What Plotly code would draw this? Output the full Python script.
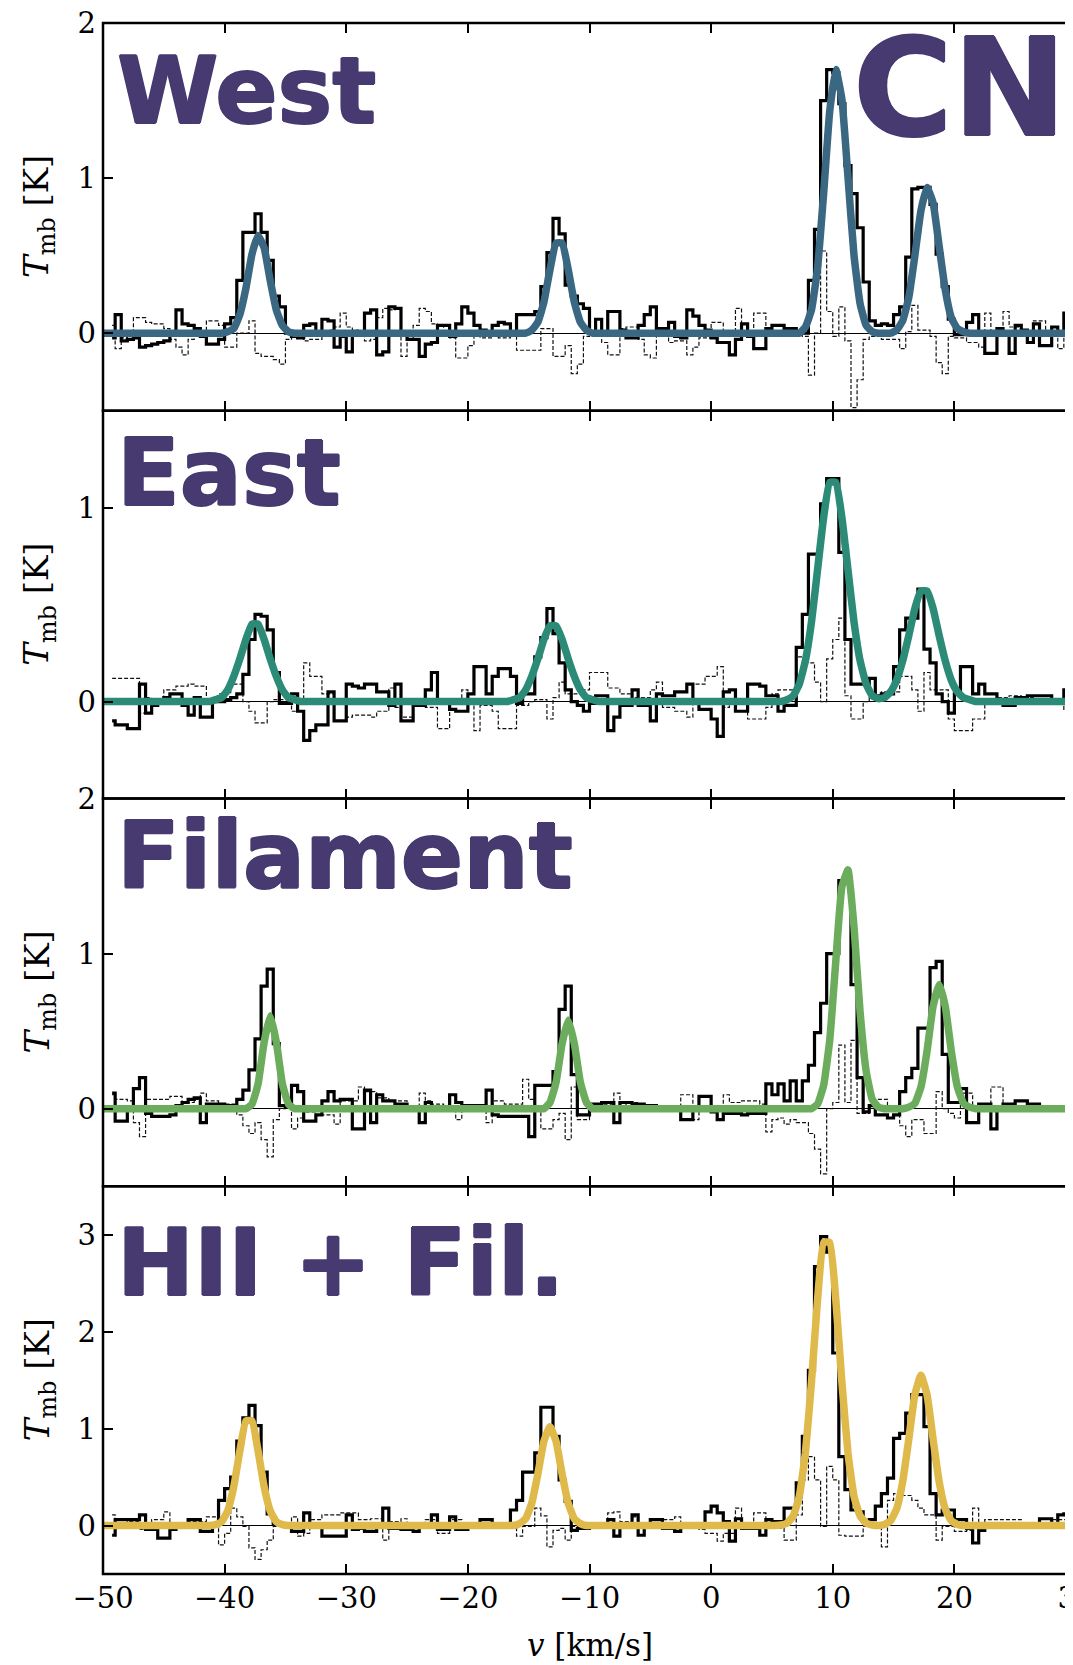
import plotly.graph_objects as go
from plotly.subplots import make_subplots

# Velocity channels: 0.5 km/s wide, centres from -49.25 km/s
v_first = -49.25
v_step = 0.5
n_chan = 159

# ---- West ----
west_spec = [
    -0.03, 0.12, -0.05, -0.04, -0.03, -0.09, -0.08, -0.07, -0.06, -0.05,
    -0.01, 0.15, 0.06, 0.05, 0.03, -0.02, -0.07, -0.07, -0.04, 0.06,
    0.10, 0.34, 0.65, 0.65, 0.77, 0.65, 0.47, 0.24, 0.17, 0.00,
    -0.02, -0.03, 0.05, 0.06, 0.01, 0.09, 0.08, -0.09, -0.02, -0.12,
    0.00, -0.01, 0.13, 0.15, -0.14, -0.12, 0.17, 0.16, -0.01, -0.04,
    -0.04, -0.15, -0.07, -0.06, 0.05, 0.05, -0.02, 0.06, 0.17, 0.13,
    0.05, 0.02, -0.01, 0.05, 0.07, 0.06, 0.00, 0.12, 0.12, 0.12,
    0.14, 0.30, 0.52, 0.74, 0.64, 0.31, 0.24, 0.19, 0.16, 0.00,
    0.09, 0.00, 0.14, 0.14, 0.02, -0.03, -0.03, 0.05, 0.12, 0.17,
    0.03, 0.03, 0.07, -0.02, -0.03, 0.15, 0.11, 0.05, 0.02, -0.03,
    -0.06, -0.06, -0.14, -0.04, 0.06, -0.02, -0.10, -0.10, 0.03, 0.05,
    0.05, 0.03, 0.03, 0.00, 0.00, 0.34, 0.67, 1.50, 1.70, 1.68,
    1.48, 1.08, 0.90, 0.68, 0.33, 0.08, 0.05, 0.06, 0.05, 0.12,
    0.17, 0.49, 0.93, 0.94, 0.94, 0.83, 0.51, 0.30, 0.09, -0.01,
    -0.01, 0.07, 0.12, -0.01, -0.13, -0.13, 0.03, 0.00, -0.13, 0.05,
    0.02, -0.06, 0.06, -0.08, -0.08, 0.04, 0.00, 0.13, 0.13,
]
west_resid = [
    0.05, -0.10, -0.03, 0.00, 0.10, 0.10, 0.07, 0.06, 0.06, 0.03,
    -0.04, -0.09, -0.14, -0.04, -0.02, -0.02, 0.08, 0.08, 0.05, -0.09,
    -0.09, 0.00, 0.00, 0.08, -0.13, -0.15, -0.15, -0.17, -0.20, -0.04,
    -0.01, -0.03, -0.05, -0.04, -0.04, -0.02, 0.02, 0.04, 0.13, 0.04,
    0.02, 0.00, -0.05, -0.04, 0.10, 0.16, 0.15, 0.16, -0.15, -0.04,
    0.05, 0.16, 0.14, 0.06, 0.05, -0.02, -0.03, -0.16, -0.16, -0.08,
    -0.02, -0.03, -0.03, 0.00, -0.03, -0.03, -0.01, -0.11, -0.11, -0.11,
    -0.11, 0.03, 0.03, -0.15, -0.15, -0.08, -0.26, -0.20, -0.02, 0.00,
    0.00, -0.06, -0.14, -0.14, 0.03, 0.04, 0.04, -0.04, -0.14, -0.16,
    0.01, 0.01, -0.06, -0.05, -0.05, -0.14, -0.09, -0.03, -0.03, 0.07,
    0.07, 0.00, 0.00, 0.16, 0.00, 0.00, 0.13, 0.13, -0.02, -0.02,
    0.01, -0.01, 0.02, 0.01, -0.02, -0.27, 0.00, 0.53, 0.14, -0.02,
    0.17, -0.05, -0.48, -0.30, -0.04, -0.02, -0.02, -0.04, -0.04, -0.04,
    -0.10, 0.01, 0.18, 0.02, 0.02, -0.02, -0.19, -0.26, -0.02, -0.03,
    -0.03, -0.06, -0.06, -0.09, 0.13, -0.02, -0.02, 0.14, 0.04, 0.04,
    0.00, 0.00, 0.08, 0.08, 0.00, 0.00, -0.10, 0.02, 0.02,
]
west_fit = (
    [0.0] * 19
    + [0.01, 0.03, 0.12, 0.29, 0.51, 0.63, 0.55, 0.34, 0.15, 0.05, 0.01]
    + [0.0] * 38
    + [0.00, 0.02, 0.07, 0.20, 0.41, 0.58, 0.58, 0.41, 0.20, 0.07, 0.02]
    + [0.0] * 35
    + [0.04, 0.15, 0.42, 0.90, 1.43, 1.70, 1.51, 1.01, 0.50, 0.19, 0.05, 0.01]
    + [0.0] * 3
    + [0.02, 0.08, 0.23, 0.50, 0.79, 0.94, 0.84, 0.56, 0.28, 0.10, 0.03, 0.01]
    + [0.0] * 18
)

# ---- East ----
east_spec = [
    -0.10, -0.12, -0.12, -0.14, -0.14, 0.09, -0.06, -0.02, 0.00, 0.02,
    0.04, 0.04, -0.02, -0.07, 0.02, -0.08, -0.08, 0.00, 0.00, 0.01,
    0.02, 0.04, 0.14, 0.32, 0.45, 0.44, 0.37, 0.15, -0.01, -0.01,
    0.04, -0.05, -0.20, -0.15, -0.12, -0.12, 0.05, -0.10, -0.10, 0.09,
    0.08, 0.07, 0.09, 0.09, 0.05, 0.05, -0.02, 0.09, -0.10, -0.10,
    -0.02, -0.02, 0.06, 0.15, 0.00, 0.00, -0.04, -0.05, -0.05, 0.04,
    0.18, 0.18, 0.04, 0.13, 0.17, 0.17, 0.13, -0.01, 0.04, 0.04,
    0.23, 0.33, 0.48, 0.35, 0.20, 0.06, 0.00, -0.02, -0.05, -0.01,
    0.03, 0.03, -0.15, -0.08, -0.02, -0.02, 0.06, -0.02, -0.02, -0.10,
    0.04, 0.03, 0.03, 0.05, 0.05, 0.09, 0.01, -0.04, -0.04, -0.09,
    -0.18, 0.05, 0.06, -0.05, -0.05, 0.09, 0.09, 0.08, 0.03, 0.03,
    -0.05, -0.02, -0.02, 0.28, 0.45, 0.76, 0.76, 1.02, 1.15, 1.15,
    0.77, 0.32, 0.09, 0.09, 0.09, 0.12, 0.03, 0.04, 0.04, 0.18,
    0.37, 0.43, 0.43, 0.58, 0.27, 0.20, 0.04, 0.00, -0.06, 0.04,
    0.18, 0.18, 0.04, 0.09, 0.04, 0.04, -0.01, -0.02, -0.02, 0.02,
    0.02, 0.03, 0.03, 0.03, 0.03, 0.00, 0.00, 0.06, 0.06,
]
east_resid = [
    0.12, 0.12, 0.12, 0.12, 0.12, -0.06, 0.02, 0.00, 0.00, 0.06,
    0.06, 0.08, 0.08, 0.09, 0.08, 0.08, 0.00, 0.00, 0.04, 0.04,
    0.09, 0.09, 0.00, -0.05, -0.11, -0.11, 0.00, 0.01, 0.01, 0.01,
    -0.05, 0.00, 0.20, 0.13, 0.13, 0.04, 0.04, 0.00, 0.00, -0.08,
    -0.07, -0.07, -0.07, -0.08, -0.05, -0.05, 0.07, -0.03, -0.08, -0.08,
    0.00, 0.00, -0.03, -0.03, -0.14, -0.14, 0.00, 0.00, 0.06, 0.00,
    -0.15, -0.02, -0.02, -0.05, -0.14, -0.14, -0.14, -0.02, -0.02, 0.00,
    0.01, 0.01, -0.09, 0.02, 0.10, 0.04, 0.04, 0.04, 0.06, 0.15,
    0.15, 0.15, 0.07, 0.07, 0.04, 0.04, 0.02, 0.02, 0.02, 0.06,
    0.10, -0.03, -0.03, -0.05, -0.05, -0.08, 0.09, 0.09, 0.13, 0.13,
    0.18, -0.03, 0.00, -0.05, -0.05, -0.09, -0.09, -0.09, -0.03, 0.04,
    0.06, 0.06, 0.06, 0.23, 0.23, 0.20, 0.10, 0.00, 0.22, 0.32,
    0.43, 0.03, -0.09, -0.09, 0.00, 0.02, 0.02, 0.05, 0.05, 0.05,
    0.13, 0.13, 0.06, -0.05, 0.15, 0.06, 0.06, 0.06, -0.09, -0.15,
    -0.15, -0.15, -0.09, -0.09, 0.00, 0.00, 0.02, 0.02, 0.03, 0.03,
    0.02, 0.02, 0.01, 0.00, 0.00, 0.00, 0.00, -0.04, -0.04,
]
east_fit = (
    [0.0] * 16
    + [0.00, 0.01, 0.02, 0.06, 0.13, 0.22, 0.32, 0.40, 0.40, 0.32, 0.22, 0.13, 0.06, 0.02, 0.01]
    + [0.0] * 34
    + [0.00, 0.01, 0.02, 0.06, 0.13, 0.22, 0.32, 0.39, 0.39, 0.32, 0.22, 0.13, 0.06, 0.02, 0.01]
    + [0.0] * 31
    + [0.01, 0.03, 0.09, 0.21, 0.41, 0.68, 0.95, 1.13, 1.13, 0.95, 0.68, 0.41, 0.21, 0.09, 0.03, 0.015]
    + [0.02, 0.05, 0.11, 0.21, 0.34, 0.48, 0.57, 0.57, 0.48, 0.34, 0.21, 0.11, 0.05, 0.02, 0.01]
    + [0.0] * 17
)

# ---- Filament ----
fil_spec = [
    0.10, -0.08, -0.08, 0.00, 0.13, 0.20, -0.03, -0.05, -0.05, -0.05,
    -0.04, 0.02, 0.04, 0.06, 0.07, -0.09, 0.03, 0.03, 0.03, 0.02,
    0.02, 0.06, 0.12, 0.25, 0.45, 0.79, 0.90, 0.42, 0.02, 0.01,
    0.15, 0.11, -0.08, -0.08, -0.04, 0.05, 0.11, 0.05, 0.06, 0.06,
    -0.13, -0.13, 0.12, -0.09, 0.09, 0.05, 0.05, 0.03, 0.03, 0.00,
    0.00, -0.09, 0.04, 0.01, 0.01, 0.01, 0.09, 0.04, 0.02, 0.02,
    0.02, 0.02, 0.12, -0.04, -0.05, -0.05, -0.05, -0.05, -0.05, -0.18,
    0.15, 0.15, 0.15, 0.24, 0.64, 0.79, 0.22, -0.04, -0.04, 0.03,
    0.03, 0.04, 0.04, -0.09, 0.04, 0.04, 0.03, 0.03, 0.02, 0.02,
    0.00, 0.00, 0.00, 0.00, -0.07, -0.07, -0.01, 0.08, 0.08, -0.02,
    -0.07, -0.03, -0.03, -0.03, -0.04, -0.03, -0.03, -0.03, 0.16, 0.09,
    0.16, 0.05, 0.18, 0.05, 0.18, 0.28, 0.49, 0.68, 1.00, 1.00,
    1.47, 1.49, 0.80, 0.20, -0.02, 0.02, -0.04, -0.04, -0.06, -0.04,
    0.11, 0.20, 0.26, 0.52, 0.52, 0.91, 0.95, 0.35, 0.04, 0.04,
    0.13, -0.09, -0.09, 0.03, 0.03, -0.13, 0.00, 0.03, 0.03, 0.05,
    0.05, 0.03, 0.03, 0.00, 0.00, 0.01, 0.01, 0.00, 0.00,
]
fil_resid = [
    0.09, 0.06, 0.06, 0.05, -0.09, -0.18, 0.06, 0.06, 0.06, 0.06,
    0.08, 0.08, 0.04, 0.04, 0.06, 0.10, 0.05, 0.05, 0.03, 0.03,
    0.03, -0.04, -0.11, -0.16, -0.09, -0.20, -0.31, -0.07, 0.00, 0.02,
    -0.13, -0.06, -0.02, -0.02, -0.04, -0.04, -0.04, -0.10, 0.05, 0.05,
    0.05, 0.14, 0.11, 0.11, 0.07, 0.07, 0.05, 0.05, 0.05, 0.02,
    0.02, 0.10, 0.05, 0.03, 0.03, 0.00, 0.00, -0.07, 0.02, 0.00,
    0.00, 0.00, -0.09, 0.05, 0.05, 0.03, 0.03, 0.03, 0.19, 0.06,
    0.00, -0.13, -0.13, -0.07, -0.03, -0.20, 0.14, -0.07, -0.07, 0.01,
    0.03, 0.03, 0.03, 0.10, 0.01, 0.04, 0.04, 0.00, 0.00, 0.02,
    0.02, 0.02, 0.02, 0.02, 0.09, 0.09, -0.07, 0.01, 0.01, 0.02,
    0.02, 0.09, 0.04, 0.04, 0.05, 0.05, 0.05, 0.03, -0.15, -0.07,
    -0.06, -0.10, -0.07, -0.09, -0.09, -0.16, -0.26, -0.42, 0.00, 0.04,
    0.41, 0.04, 0.44, -0.03, -0.03, 0.02, 0.06, 0.06, 0.02, 0.02,
    -0.11, -0.18, -0.07, -0.07, -0.16, -0.16, 0.11, 0.00, -0.03, -0.06,
    0.10, 0.10, 0.00, 0.03, 0.03, 0.14, 0.14, 0.03, 0.03, 0.00,
    0.00, 0.01, 0.01, 0.02, 0.02, 0.02, 0.02, 0.02, 0.02,
]
fil_fit = (
    [0.0] * 23
    + [0.03, 0.16, 0.43, 0.60, 0.43, 0.16, 0.03]
    + [0.0] * 42
    + [0.04, 0.17, 0.42, 0.57, 0.42, 0.17, 0.04]
    + [0.0] * 37
    + [0.03, 0.15, 0.44, 0.95, 1.43, 1.54, 1.17, 0.62, 0.24, 0.06, 0.01]
    + [0.0] * 4
    + [0.01, 0.035, 0.14, 0.37, 0.66, 0.80, 0.66, 0.37, 0.14, 0.035, 0.01]
    + [0.0] * 17
)

# ---- HII + Filament ----
hii_spec = [
    -0.10, 0.06, 0.06, 0.06, 0.06, 0.11, -0.04, -0.04, -0.13, -0.13,
    -0.04, 0.01, 0.01, 0.06, 0.06, -0.06, -0.06, 0.00, 0.26, 0.38,
    0.50, 0.87, 1.11, 1.24, 1.03, 0.55, 0.12, 0.02, 0.02, 0.02,
    -0.06, -0.06, 0.13, 0.02, 0.02, -0.11, -0.11, -0.11, -0.11, 0.11,
    -0.04, -0.03, -0.06, -0.06, 0.02, 0.18, -0.03, -0.03, -0.04, -0.04,
    -0.06, -0.01, -0.01, 0.11, -0.04, -0.04, 0.09, -0.04, -0.04, -0.01,
    -0.01, 0.06, 0.06, -0.01, -0.01, -0.01, 0.16, 0.26, 0.55, 0.55,
    0.75, 1.22, 1.22, 0.92, 0.47, 0.25, -0.05, -0.03, -0.03, 0.01,
    0.01, 0.01, 0.06, -0.11, 0.02, 0.02, 0.11, -0.10, -0.01, 0.06,
    0.06, -0.03, -0.03, -0.06, 0.02, 0.02, 0.02, 0.02, 0.14, 0.20,
    0.13, 0.04, -0.16, 0.07, -0.03, -0.03, -0.03, -0.10, 0.06, 0.04,
    0.04, 0.18, 0.18, 0.44, 0.92, 1.60, 2.67, 2.98, 2.82, 1.78,
    0.71, 0.37, 0.16, 0.14, 0.04, 0.06, 0.20, 0.33, 0.49, 0.90,
    0.95, 1.16, 1.35, 1.35, 1.02, 0.33, 0.11, 0.16, 0.16, 0.06,
    0.06, -0.03, -0.18, -0.05, 0.02, 0.02, -0.01, -0.01, -0.01, 0.02,
    0.02, 0.02, 0.02, 0.07, 0.07, 0.02, 0.11, 0.12, 0.12,
]
hii_resid = [
    0.11, 0.06, 0.06, 0.04, 0.04, -0.04, -0.01, 0.06, 0.06, 0.14,
    -0.01, -0.01, -0.01, 0.04, 0.04, 0.04, 0.09, 0.09, -0.20, -0.08,
    0.18, 0.09, -0.01, -0.23, -0.35, -0.25, -0.15, -0.01, -0.01, -0.01,
    0.09, -0.11, -0.08, 0.06, 0.06, 0.11, 0.11, 0.11, 0.13, 0.13,
    0.13, 0.06, 0.06, 0.07, 0.07, -0.15, 0.04, 0.04, 0.07, 0.02,
    0.02, 0.02, 0.06, 0.06, -0.08, -0.08, 0.06, 0.06, -0.01, -0.01,
    -0.01, -0.03, -0.03, -0.03, -0.03, -0.03, -0.03, -0.11, -0.01, -0.01,
    0.18, 0.10, -0.22, -0.05, -0.03, -0.15, -0.01, -0.01, -0.01, 0.02,
    0.02, 0.02, 0.13, 0.14, 0.04, 0.04, 0.09, 0.02, 0.02, 0.02,
    0.02, 0.06, 0.06, 0.09, -0.01, -0.01, -0.01, -0.04, -0.08, -0.08,
    -0.16, -0.08, -0.08, 0.18, 0.02, 0.02, 0.13, 0.13, 0.01, 0.01,
    -0.03, -0.15, -0.15, 0.11, 0.47, 0.71, 0.47, -0.01, 0.61, 0.47,
    -0.10, -0.11, -0.11, -0.11, -0.01, -0.01, -0.03, -0.22, 0.26, 0.33,
    0.31, 0.31, 0.26, 0.18, 0.11, 0.11, -0.15, -0.01, -0.01, -0.06,
    -0.06, -0.05, 0.18, 0.02, 0.06, 0.06, 0.06, 0.06, 0.06, 0.06,
    0.02, 0.02, 0.02, 0.02, 0.02, 0.06, 0.06, 0.06, 0.06,
]
hii_fit = (
    [0.0] * 17
    + [0.01, 0.04, 0.15, 0.40, 0.77, 1.08, 1.08, 0.77, 0.40, 0.15, 0.04, 0.01]
    + [0.0] * 38
    + [0.02, 0.07, 0.23, 0.53, 0.87, 1.02, 0.87, 0.53, 0.23, 0.07, 0.02]
    + [0.0] * 32
    + [0.005, 0.025, 0.10, 0.30, 0.75, 1.48, 2.33, 2.92, 2.92, 2.33, 1.48, 0.75, 0.30, 0.10, 0.025, 0.005]
    + [0.0]
    + [0.01, 0.05, 0.17, 0.45, 0.89, 1.35, 1.55, 1.35, 0.89, 0.45, 0.17, 0.05, 0.01]
    + [0.0] * 19
)

panel_names = ["West", "East", "Filament", "HII + Fil."]
panel_specs = [west_spec, east_spec, fil_spec, hii_spec]
panel_resids = [west_resid, east_resid, fil_resid, hii_resid]
panel_fits = [west_fit, east_fit, fil_fit, hii_fit]
panel_colors = ["#3a6882", "#2b8b77", "#6cac5d", "#e0b94b"]
panel_yranges = [[-0.5, 2.0], [-0.5, 1.5], [-0.5, 2.0], [-0.5, 3.5]]

x_ticks = [-50, -40, -30, -20, -10, 0, 10, 20, 30]
x_range = [-50, 30]

label_color = "#463a70"
# a little text-shadow makes the heavy labels closer to the original weight
label_shadow = ("1px 0 0 %s, -1px 0 0 %s, 0 1px 0 %s, 0 -1px 0 %s"
                % ((label_color,) * 4))
serif = "DejaVu Serif"
tick_font = dict(family=serif, size=29, color="black")

vel = [v_first + v_step * i for i in range(n_chan)]
fit_vel = [x_range[0]] + vel + [x_range[1]]

# the page body has an 8 px margin; the figure is sized so that the plot
# area lands where the reference has it and runs just past the right edge
W, H = 1068, 1657
m_l, m_r, m_t, m_b = 95, 0, 15, 91
plot_w = W - m_l - m_r
plot_h = H - m_t - m_b
off = 8  # body margin


def px_x(x):
    # window pixel -> paper x
    return (x - off - m_l) / plot_w


def px_y(y):
    # window pixel -> paper y
    return (m_t + plot_h - (y - off)) / plot_h


fig = make_subplots(rows=4, cols=1, shared_xaxes=True, vertical_spacing=0)

for i in range(4):
    row = i + 1
    # residual (thin dashed)
    fig.add_trace(go.Scatter(
        x=vel, y=panel_resids[i], mode="lines", line_shape="hvh",
        line=dict(color="#111111", width=1.2, dash="4px,2px"),
        showlegend=False, hoverinfo="skip"), row=row, col=1)
    # observed spectrum
    fig.add_trace(go.Scatter(
        x=vel, y=panel_specs[i], mode="lines", line_shape="hvh",
        line=dict(color="black", width=3.2),
        showlegend=False, hoverinfo="skip"), row=row, col=1)
    # fitted hyperfine model
    fig.add_trace(go.Scatter(
        x=fit_vel, y=[0.0] + panel_fits[i] + [0.0], mode="lines",
        line=dict(color=panel_colors[i], width=7.5, shape="spline", smoothing=0.4),
        showlegend=False, hoverinfo="skip"), row=row, col=1)

    fig.update_yaxes(
        range=panel_yranges[i], tick0=0, dtick=1,
        ticks="inside", ticklen=10, tickwidth=2, tickcolor="black",
        showline=False, mirror="ticks", automargin=False,
        showgrid=False, zeroline=True, zerolinecolor="black", zerolinewidth=1,
        tickfont=tick_font, ticklabelstandoff=6, ticklabeloverflow="allow",
        row=row, col=1)
    fig.update_xaxes(
        range=x_range, tickvals=x_ticks,
        ticks="inside", ticklen=10, tickwidth=2, tickcolor="black",
        showline=False, mirror="ticks", automargin=False,
        showgrid=False, zeroline=False, tickfont=tick_font,
        ticklabelstandoff=4, ticklabeloverflow="allow", row=row, col=1)

    # panel frame, centred on the domain edges so neighbours share one line
    suffix = "" if row == 1 else str(row)
    fig.add_shape(
        type="rect", xref="x%s domain" % suffix, yref="y%s domain" % suffix,
        x0=0, x1=1, y0=0, y1=1, line=dict(color="black", width=2.5),
        fillcolor="rgba(0,0,0,0)", layer="above")

    # y axis title
    fig.add_annotation(
        text="<i>T</i><sub>mb</sub> [K]", textangle=-90,
        xref="paper", yref="paper", x=0, y=1 - 0.25 * i - 0.125,
        xanchor="center", yanchor="middle", xshift=-64, showarrow=False,
        font=dict(family=serif, size=34, color="black"))

# panel names (window pixel of the cap-height middle)
label_cap_mid = [91.6, 474.0, 856.6, 1263.6]
for name, ypix in zip(panel_names, label_cap_mid):
    fig.add_annotation(
        text=name, xref="paper", yref="paper",
        x=px_x(115), y=px_y(ypix),
        xanchor="left", yanchor="middle", showarrow=False,
        font=dict(family="DejaVu Sans", size=92, color=label_color,
                  weight="bold", shadow=label_shadow))

fig.add_annotation(
    text="CN", xref="paper", yref="paper",
    x=px_x(851), y=px_y(88),
    xanchor="left", yanchor="middle", showarrow=False,
    font=dict(family="DejaVu Sans", size=136, color=label_color,
              weight="bold", shadow=label_shadow))

# x axis title
fig.add_annotation(
    text="<i>v</i> [km/s]", xref="paper", yref="paper",
    x=px_x(590), y=px_y(1645),
    xanchor="center", yanchor="middle", showarrow=False,
    font=dict(family=serif, size=31, color="black"))

fig.update_layout(
    width=W, height=H,
    margin=dict(l=m_l, r=m_r, t=m_t, b=m_b, autoexpand=False),
    paper_bgcolor="white", plot_bgcolor="white",
    showlegend=False,
)

fig.write_html("out.html")
